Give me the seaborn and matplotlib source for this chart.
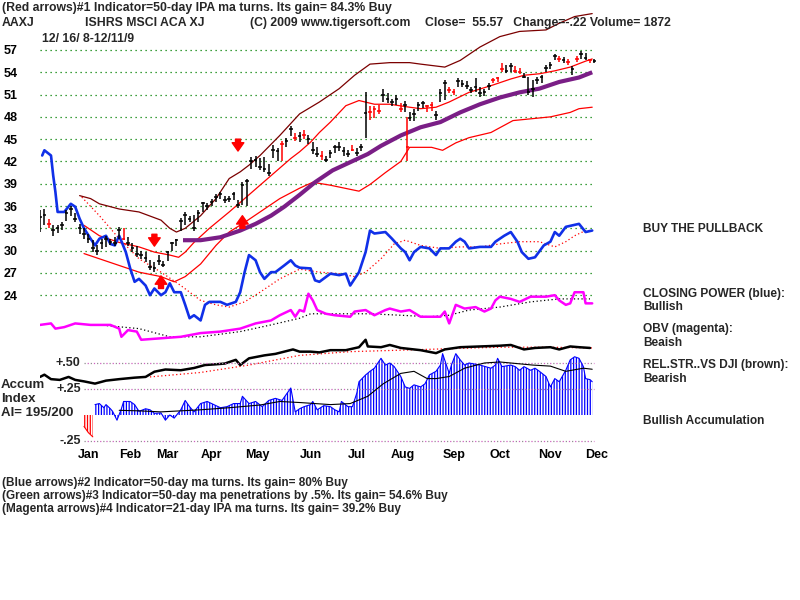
"""
TigerSoft style chart: AAXJ (ISHRS MSCI ACA XJ), 12/16/08 - 12/11/09
price bars + bands, closing power, OBV, rel. strength, accumulation index
"""
import numpy as np
import matplotlib
matplotlib.use('Agg')
import matplotlib.pyplot as plt
import seaborn as sns

# ========== style ==========
sns.set_theme(style='white')
plt.rcParams['font.family'] = ['Liberation Sans', 'DejaVu Sans']
plt.rcParams['hatch.linewidth'] = 0.9

C_BLUE = '#1030E8'
C_MAGENTA = '#FF00FF'
C_PURPLE = '#7A1E86'
C_MAROON = '#7B0000'
C_RED = '#FF0000'
C_GREEN = '#008000'
C_ACC = '#0000FF'

# ========== data (x = trading day since 12/16/08) ==========
bar_day = [0, 2, 4, 6, 8, 10, 12, 14, 16, 18, 20, 22, 24, 26, 28, 30, 32, 34, 36, 38,
           40, 42, 44, 46, 48, 50, 52, 54, 56, 58, 60, 62, 64, 66, 68, 70, 72, 74, 76, 78,
           80, 82, 84, 86, 88, 90, 92, 94, 96, 98, 100, 102, 104, 106, 108, 110, 112, 114, 116, 118,
           120, 122, 124, 126, 128, 130, 132, 134, 136, 138, 140, 142, 144, 146, 148, 150, 152, 154, 156, 158,
           160, 162, 164, 166, 167, 168, 170, 172, 174, 176, 178, 180, 182, 184, 186, 188, 190, 192, 194, 196,
           198, 200, 202, 204, 206, 208, 210, 212, 214, 216, 218, 220, 222, 224, 226, 228, 230, 232, 234, 236,
           238, 240, 242, 244, 246, 248, 250, 252]
bar_high = [35.5, 35.6, 34.3, 33.4, 33.4, 33.8, 35.5, 36.0, 35.0, 33.6, 33.0, 32.2, 31.4, 30.8, 31.6, 32.0, 31.6, 31.8, 33.2, 33.0,
            31.8, 31.0, 30.6, 30.0, 29.8, 28.8, 28.4, 29.4, 28.6, 30.0, 31.2, 31.6, 34.4, 35.2, 34.6, 34.8, 35.4, 36.6, 36.4, 37.0,
            37.6, 37.9, 37.4, 37.4, 37.9, 36.8, 39.2, 39.7, 42.6, 42.8, 42.4, 42.6, 41.6, 44.2, 43.8, 44.8, 45.2, 46.8, 45.8, 46.0,
            46.2, 45.6, 44.6, 44.0, 43.4, 42.8, 43.6, 44.2, 44.6, 44.0, 43.6, 44.2, 43.8, 44.4, 51.3, 49.5, 49.4, 49.6, 51.7, 51.2,
            50.4, 51.0, 49.8, 50.2, 48.0, 48.6, 49.0, 50.0, 50.2, 49.6, 50.0, 48.8, 51.7, 53.0, 52.0, 51.8, 53.2, 53.0, 52.8, 52.0,
            53.2, 52.0, 51.8, 52.6, 53.2, 53.4, 55.2, 55.0, 55.2, 54.8, 54.6, 53.9, 53.4, 53.0, 53.4, 53.6, 55.0, 55.4, 56.5, 56.2,
            56.0, 55.8, 54.8, 56.2, 56.8, 56.6, 55.8, 55.8]
bar_low = [32.5, 33.5, 33.0, 32.0, 32.4, 32.8, 34.0, 34.6, 33.8, 32.3, 31.6, 31.0, 29.8, 29.4, 30.2, 30.5, 30.7, 30.6, 31.6, 31.4,
           30.6, 29.8, 29.2, 28.9, 28.5, 27.4, 27.1, 28.0, 27.8, 28.6, 30.0, 30.6, 32.6, 33.4, 33.8, 32.6, 33.8, 35.2, 35.4, 36.0,
           36.6, 37.0, 36.4, 36.5, 36.8, 35.8, 36.2, 36.0, 41.0, 41.2, 40.8, 40.6, 40.0, 42.4, 42.0, 42.1, 44.0, 45.4, 44.8, 44.6,
           45.0, 44.4, 43.0, 42.6, 42.2, 41.9, 42.4, 43.2, 43.4, 42.8, 42.6, 43.4, 42.8, 43.4, 45.2, 47.6, 47.8, 48.4, 50.0, 49.8,
           49.4, 49.6, 48.6, 48.6, 42.1, 47.4, 47.4, 48.8, 49.2, 48.6, 48.8, 47.6, 50.0, 50.3, 51.2, 51.0, 52.0, 52.0, 51.8, 51.2,
           51.4, 50.7, 50.8, 51.6, 52.6, 52.7, 54.0, 53.9, 54.0, 53.9, 53.8, 53.2, 50.9, 50.7, 52.4, 52.6, 54.0, 54.4, 55.6, 55.4,
           55.2, 55.0, 53.6, 55.4, 55.8, 55.6, 55.2, 55.3]
bar_close = [34.5, 34.8, 33.6, 32.8, 33.0, 33.4, 35.0, 35.6, 34.3, 33.0, 32.2, 31.6, 30.3, 30.0, 31.0, 31.5, 31.2, 31.0, 32.8, 31.6,
             31.0, 30.4, 29.6, 29.4, 29.0, 27.8, 27.6, 28.6, 28.0, 29.8, 31.0, 31.4, 34.0, 34.8, 34.2, 33.0, 35.0, 36.4, 36.0, 36.6,
             37.2, 37.6, 36.8, 37.0, 37.6, 36.2, 38.8, 39.4, 42.0, 42.2, 41.2, 41.0, 40.4, 43.6, 43.4, 44.4, 44.8, 46.4, 45.2, 45.4,
             45.6, 45.0, 43.6, 43.0, 42.8, 42.2, 43.2, 44.0, 44.0, 43.4, 43.0, 43.6, 43.2, 44.0, 48.5, 48.6, 49.0, 48.8, 51.0, 50.4,
             50.0, 50.4, 49.0, 49.6, 44.0, 47.8, 48.4, 49.6, 49.8, 49.4, 49.6, 48.2, 51.2, 52.6, 51.6, 51.4, 52.8, 52.4, 52.2, 51.6,
             52.0, 51.2, 51.4, 52.2, 53.0, 53.2, 54.4, 54.2, 54.8, 54.2, 54.0, 53.4, 51.4, 51.8, 53.0, 53.4, 54.6, 55.0, 56.2, 55.8,
             55.6, 55.4, 54.4, 55.8, 56.4, 55.9, 55.6, 55.57]
red_days = [4, 38, 110, 116, 120, 128, 142, 150, 152, 154, 164, 167, 176, 178, 186, 188,
            206, 208, 210, 216, 218, 236, 240, 244, 250]

# bands and 50-day ma (price units)
upper_day = [18, 23, 27, 36, 45, 55, 59, 62, 66, 73, 80, 86, 91, 95, 100, 109, 118, 127, 136, 143,
             150, 159, 168, 173, 184, 191, 200, 209, 218, 230, 236, 243, 251]
upper_val = [37.4, 37.0, 36.3, 35.6, 35.2, 34.1, 33.0, 32.5, 33.0, 34.7, 37.0, 39.7, 40.6, 41.5, 42.8, 45.5, 48.4, 50.0, 51.8, 53.6,
             55.1, 55.3, 55.3, 55.1, 54.7, 55.6, 57.4, 58.8, 59.5, 59.7, 60.6, 61.5, 61.9]
band_hi_day = [20, 27, 36, 45, 52, 59, 63, 66, 70, 77, 86, 93, 100, 107, 114, 118, 123, 127, 132, 139,
               145, 152, 159, 168, 173, 180, 186, 195, 205, 214, 220, 227, 234, 241, 248, 251]
band_hi_val = [33.4, 32.0, 31.1, 30.5, 29.8, 29.4, 29.1, 29.8, 31.1, 33.0, 35.2, 37.0, 38.8, 40.6, 42.4, 43.3, 44.6, 45.9, 47.3, 49.5,
               50.2, 49.7, 49.7, 49.3, 49.1, 49.3, 50.0, 51.3, 52.2, 53.1, 53.6, 53.8, 54.2, 54.7, 55.5, 55.8]
band_lo_day = [20, 27, 36, 45, 55, 61, 66, 73, 80, 86, 93, 100, 109, 118, 124, 132, 145, 150, 157, 164,
               168, 178, 183, 189, 195, 205, 215, 232, 241, 245, 251]
band_lo_val = [29.6, 28.9, 28.0, 27.1, 26.5, 25.8, 26.5, 28.2, 30.7, 32.5, 33.8, 35.2, 37.0, 38.4, 39.2, 38.8, 38.0, 38.9, 40.5, 42.0,
               43.9, 43.9, 43.5, 44.5, 45.2, 45.9, 47.5, 48.0, 48.6, 49.1, 49.3]
ma50_day = [65, 73, 82, 91, 98, 105, 111, 118, 125, 133, 141, 149, 155, 164, 173, 182, 191, 200, 209, 218,
            227, 236, 245, 251]
ma50_val = [31.4, 31.4, 31.8, 32.7, 33.6, 34.7, 35.9, 37.5, 39.2, 40.8, 41.9, 43.0, 44.1, 45.5, 46.6, 47.3, 48.6, 49.7, 50.6, 51.3,
            51.8, 52.7, 53.3, 54.0]

# closing power (blue) and its ma
cp_day = [1, 2, 5, 6, 7, 8, 11, 14, 16, 18, 20, 23, 25, 27, 30, 32, 34, 36, 39, 41,
          43, 45, 48, 50, 52, 55, 57, 59, 61, 64, 66, 68, 70, 73, 75, 77, 82, 85, 89, 91,
          93, 95, 98, 100, 102, 105, 107, 111, 114, 116, 118, 123, 125, 127, 132, 136, 139, 141, 145, 148,
          150, 152, 157, 160, 164, 166, 168, 170, 173, 177, 180, 182, 186, 189, 191, 193, 195, 200, 205, 207,
          211, 214, 217, 219, 222, 225, 229, 232, 234, 236, 239, 242, 245, 248, 251]
cp_val = [42.8, 43.5, 42.8, 40.1, 37.9, 35.2, 35.2, 36.3, 35.9, 34.3, 33.0, 31.6, 30.7, 31.6, 32.0, 30.9, 30.7, 32.0, 29.8, 27.6,
          25.8, 26.2, 25.3, 24.0, 24.9, 24.0, 24.4, 25.6, 24.4, 24.4, 22.7, 20.9, 21.3, 20.6, 22.7, 23.1, 23.1, 22.7, 23.1, 24.4,
          27.1, 29.4, 28.7, 27.1, 26.2, 27.1, 27.1, 28.0, 28.7, 28.0, 27.7, 27.6, 26.0, 25.8, 26.9, 26.7, 26.9, 25.3, 27.1, 29.8,
          32.7, 32.3, 32.5, 31.6, 30.3, 29.8, 28.7, 29.8, 30.5, 30.3, 29.4, 30.3, 30.3, 31.2, 31.6, 31.2, 30.3, 30.5, 30.5, 31.2,
          32.0, 32.5, 31.2, 29.8, 28.9, 29.1, 30.7, 31.2, 32.5, 32.0, 33.2, 33.4, 33.6, 32.5, 32.7]
cpma_day = [19, 27, 36, 45, 55, 64, 73, 80, 86, 93, 100, 109, 118, 127, 136, 143, 148, 155, 161, 166,
            173, 182, 191, 200, 209, 218, 227, 234, 239, 243, 248, 251]
cpma_val = [37.2, 34.7, 31.6, 28.9, 27.1, 25.3, 23.3, 22.7, 22.4, 23.1, 24.4, 26.2, 27.5, 27.1, 26.9, 26.5, 27.1, 28.9, 30.9, 31.4,
            30.7, 30.3, 30.5, 30.5, 30.9, 31.2, 31.2, 30.5, 31.2, 32.0, 32.7, 32.7]

# OBV (magenta) and its ma
obv_day = [0, 5, 7, 11, 16, 23, 32, 36, 37, 40, 44, 46, 55, 64, 73, 82, 91, 98, 105, 109,
           114, 116, 118, 120, 122, 124, 126, 130, 134, 141, 143, 148, 152, 157, 159, 164, 168, 173, 182, 184,
           186, 189, 193, 198, 202, 205, 207, 209, 214, 218, 223, 230, 234, 236, 239, 241, 243, 247, 248, 251]
obv_val = [20.0, 20.2, 19.5, 19.7, 20.2, 20.0, 20.0, 19.5, 18.4, 19.3, 19.1, 18.0, 18.2, 18.4, 18.9, 19.1, 19.5, 20.2, 20.6, 21.3,
           22.0, 21.1, 22.0, 21.8, 24.2, 23.3, 22.0, 21.5, 21.3, 21.1, 21.8, 22.0, 21.3, 22.0, 22.2, 21.8, 22.0, 21.1, 21.1, 21.8,
           20.2, 22.7, 22.2, 22.4, 21.8, 22.2, 23.3, 23.8, 23.5, 23.1, 23.8, 23.8, 24.0, 23.3, 22.7, 22.9, 24.4, 24.4, 22.9, 22.9]
obvma_day = [27, 45, 59, 73, 91, 105, 118, 123, 136, 150, 164, 177, 186, 195, 209, 223, 236, 250]
obvma_val = [20.0, 19.5, 18.4, 18.4, 19.1, 20.0, 20.9, 21.5, 21.5, 21.5, 21.3, 21.1, 21.3, 22.0, 22.4, 23.1, 23.5, 23.5]

# relative strength vs DJI (black) and its ma
rs_day = [0, 2, 5, 9, 13, 16, 20, 25, 30, 36, 43, 48, 52, 57, 64, 70, 75, 80, 84, 89,
          91, 95, 102, 107, 111, 115, 118, 123, 127, 132, 139, 145, 148, 149, 155, 159, 164, 173, 180, 184,
          191, 200, 209, 214, 220, 225, 232, 236, 241, 245, 250]
rs_val = [13.0, 13.3, 12.7, 12.6, 13.0, 12.6, 12.4, 12.1, 12.5, 12.7, 12.9, 13.0, 13.7, 14.0, 13.9, 14.2, 14.6, 14.7, 14.8, 15.3,
          14.6, 15.5, 15.9, 16.1, 16.4, 16.7, 16.4, 16.4, 16.3, 16.6, 16.6, 17.0, 18.0, 17.1, 17.0, 17.3, 16.9, 16.6, 16.2, 16.7,
          17.0, 17.1, 17.2, 17.3, 16.7, 16.9, 17.0, 16.7, 17.1, 17.0, 16.9]
rsma_day = [50, 73, 95, 118, 141, 164, 186, 209, 232, 251]
rsma_val = [13.0, 13.6, 14.6, 15.9, 16.4, 16.6, 16.8, 17.0, 17.0, 16.9]

# accumulation index
acc_neg_day = [20, 21, 22, 23, 24]
acc_neg_val = [-0.11, -0.14, -0.17, -0.19, -0.21]
acc_day = [25, 27, 29, 30, 32, 33, 35, 37, 38, 41, 43, 45, 48, 50, 52, 55, 57, 59, 61, 64,
           66, 68, 70, 73, 76, 79, 82, 85, 88, 91, 92, 95, 98, 101, 104, 107, 110, 114, 116, 118,
           120, 123, 124, 126, 129, 132, 134, 136, 137, 140, 142, 144, 145, 148, 150, 152, 155, 157, 159, 161,
           164, 166, 168, 170, 173, 175, 177, 180, 182, 183, 186, 187, 189, 191, 193, 195, 200, 205, 207, 208,
           210, 214, 216, 218, 220, 223, 225, 227, 230, 232, 234, 236, 239, 241, 243, 245, 247, 248, 250, 251]
acc_val = [0.10, 0.11, 0.07, 0.10, 0.06, 0.035, -0.05, 0.06, 0.13, 0.13, 0.10, 0.035, 0.06, 0.05, 0.016, 0.02, -0.05, 0.0, -0.03, 0.05,
           0.14, 0.08, 0.03, 0.11, 0.13, 0.10, 0.07, 0.08, 0.11, 0.11, 0.18, 0.11, 0.13, 0.08, 0.14, 0.16, 0.14, 0.26, 0.03, 0.06,
           0.08, 0.10, 0.13, 0.05, 0.09, 0.08, 0.05, 0.03, 0.13, 0.08, 0.08, 0.21, 0.32, 0.385, 0.42, 0.45, 0.545, 0.48, 0.50, 0.465,
           0.37, 0.27, 0.256, 0.29, 0.27, 0.30, 0.385, 0.42, 0.48, 0.59, 0.40, 0.48, 0.59, 0.53, 0.48, 0.50, 0.48, 0.45, 0.48, 0.545,
           0.465, 0.48, 0.465, 0.43, 0.465, 0.43, 0.45, 0.42, 0.37, 0.27, 0.35, 0.32, 0.43, 0.53, 0.56, 0.545, 0.465, 0.35, 0.34, 0.32]
accma_day = [36, 45, 55, 64, 73, 86, 100, 109, 118, 132, 141, 149, 156, 164, 170, 176, 180, 186, 193, 202,
             209, 224, 232, 239, 247, 251]
accma_val = [0.045, 0.04, 0.03, 0.04, 0.05, 0.07, 0.096, 0.13, 0.12, 0.10, 0.11, 0.18, 0.30, 0.40, 0.42, 0.35, 0.35, 0.37, 0.45, 0.50,
             0.51, 0.48, 0.47, 0.42, 0.45, 0.44]

# red arrows: (day, tail, tip)
arrow_day = [52, 55, 90, 92]
arrow_tail = [32.2, 24.9, 45.0, 33.0]
arrow_tip = [30.6, 26.6, 43.4, 34.7]

grid_levels = [24, 27, 30, 33, 36, 39, 42, 45, 48, 51, 54, 57]
acc_levels = [0.50, 0.25, -0.25]
acc_labels = ['+.50', '+.25', '-.25']
month_pos = [22, 41, 58, 78, 99, 123, 144, 165, 188, 209, 232, 253]
month_lbl = ['Jan', 'Feb', 'Mar', 'Apr', 'May', 'Jun', 'Jul', 'Aug', 'Sep', 'Oct', 'Nov', 'Dec']

# ========== figure ==========
W, H = 800, 600
fig = plt.figure(figsize=(8, 6), dpi=100)
fig.patch.set_facecolor('white')


def fx(px):
    return px / W


def fy(py):
    return 1 - py / H


XMAX = 560 / 2.2
ax = fig.add_axes([fx(40), fy(445), fx(560), 445 / H])
ax.set_xlim(0, XMAX)
ax.set_ylim(57 - 395 / 7.43, 57 + 50 / 7.43)
ax.set_facecolor('none')
for s in ax.spines.values():
    s.set_visible(False)

ax.hlines(grid_levels, 0, 252, colors=C_GREEN, linewidth=0.9, linestyles=(0, (1, 3)))

# bands / ma
ax.plot(upper_day, upper_val, color=C_MAROON, lw=0.9)
ax.plot(band_hi_day, band_hi_val, color=C_RED, lw=0.9)
ax.plot(band_lo_day, band_lo_val, color=C_RED, lw=0.9)
ax.plot(ma50_day, ma50_val, color=C_PURPLE, lw=3.0, solid_capstyle='butt')

# indicator lines
ax.plot(cpma_day, cpma_val, color=C_RED, lw=0.9, ls=(0, (1, 2)))
ax.plot(cp_day, cp_val, color=C_BLUE, lw=1.9)
ax.plot(obvma_day, obvma_val, color='black', lw=0.9, ls=(0, (1, 2)))
ax.plot(obv_day, obv_val, color=C_MAGENTA, lw=1.8)
ax.plot(rsma_day, rsma_val, color=C_RED, lw=0.9, ls=(0, (1, 2)))
ax.plot(rs_day, rs_val, color='black', lw=1.8)

# price bars
bar_col = [C_RED if d in red_days else 'black' for d in bar_day]
bd = np.array(bar_day, dtype=float)
ax.vlines(bd, bar_low, bar_high, colors=bar_col, lw=1.1)
ax.hlines(bar_close, bd - 0.8, bd + 0.8, colors=bar_col, lw=1.1)

# arrows
for d, t0, t1 in zip(arrow_day, arrow_tail, arrow_tip):
    ax.annotate('', xy=(d, t1), xytext=(d, t0),
                arrowprops=dict(arrowstyle='simple,head_length=0.5,head_width=0.7,tail_width=0.3',
                                color=C_RED, shrinkA=0, shrinkB=0))

ax.set_xticks([])
ax.set_yticks(grid_levels)
ax.set_yticklabels([str(v) for v in grid_levels], fontsize=9, fontweight='bold')
ax.tick_params(axis='y', length=0, pad=16, colors='black')
ax.grid(False)

# ========== accumulation panel ==========
ax2 = fig.add_axes([fx(40), fy(445), fx(560), 105 / H])
ax2.set_xlim(0, XMAX)
ax2.set_ylim(-30 / 104, 75 / 104)
ax2.set_facecolor('none')
for s in ax2.spines.values():
    s.set_visible(False)
ax2.hlines(acc_levels, 20, 252, colors='#909090', linewidth=0.9, linestyles=(0, (1, 4)))
ax2.hlines(acc_levels, 20, 252, colors='#D060C0', linewidth=0.9, linestyles=(2.5, (1, 4)))
ax2.fill_between(acc_day, 0, acc_val, facecolor='none', edgecolor=C_ACC, hatch='||||||', linewidth=0)
ax2.plot(acc_day, acc_val, color=C_ACC, lw=0.8)
ax2.fill_between(acc_neg_day, 0, acc_neg_val, facecolor='none', edgecolor=C_RED, hatch='||||||', linewidth=0)
ax2.plot(acc_neg_day, acc_neg_val, color=C_RED, lw=0.8)
ax2.plot(accma_day, accma_val, color='black', lw=0.8)
for lv, lb in zip(acc_levels, acc_labels):
    ax2.text(18.5, lv, lb, ha='right', va='center', fontsize=9, fontweight='bold')
ax2.set_yticks([])
ax2.set_xticks(month_pos)
ax2.set_xticklabels(month_lbl, fontsize=9, fontweight='bold')
ax2.tick_params(axis='x', length=0, pad=3, colors='black')
ax2.grid(False)

# ========== text ==========
TXT = dict(fontsize=8.8, fontweight='bold', va='center', ha='left')
fig.text(fx(2), fy(8), '(Red arrows)#1 Indicator=50-day IPA ma turns. Its gain= 84.3% Buy', **TXT)
fig.text(fx(2), fy(23), 'AAXJ', **TXT)
fig.text(fx(85), fy(23), 'ISHRS MSCI ACA XJ', **TXT)
fig.text(fx(250), fy(23), '(C) 2009 www.tigersoft.com', **TXT)
fig.text(fx(425), fy(23), 'Close=  55.57   Change=-.22 Volume= 1872', **TXT)
fig.text(fx(42), fy(39), '12/ 16/ 8-12/11/9', **TXT)

right_txt = [(229, 'BUY THE PULLBACK'), (294, 'CLOSING POWER (blue):'), (307, 'Bullish'),
             (329, 'OBV (magenta):'), (343, 'Beaish'), (365, 'REL.STR..VS DJI (brown):'),
             (379, 'Bearish'), (421, 'Bullish Accumulation')]
for py, t in right_txt:
    fig.text(fx(643), fy(py), t, fontsize=8.6, fontweight='bold', va='center', ha='left')

ACC_TXT = dict(fontsize=9.5, fontweight='bold', va='center', ha='left')
fig.text(fx(1), fy(385), 'Accum', **ACC_TXT)
fig.text(fx(1), fy(399), 'Index', **ACC_TXT)
fig.text(fx(1), fy(413), 'AI= 195/200', **ACC_TXT)

BOT = dict(fontsize=8.5, fontweight='bold', va='center', ha='left')
fig.text(fx(2), fy(483), '(Blue arrows)#2 Indicator=50-day ma turns. Its gain= 80% Buy', **BOT)
fig.text(fx(2), fy(496), '(Green arrows)#3 Indicator=50-day ma penetrations by .5%. Its gain= 54.6% Buy', **BOT)
fig.text(fx(2), fy(509), '(Magenta arrows)#4 Indicator=21-day IPA ma turns. Its gain= 39.2% Buy', **BOT)

plt.savefig('out.png', dpi=100)
